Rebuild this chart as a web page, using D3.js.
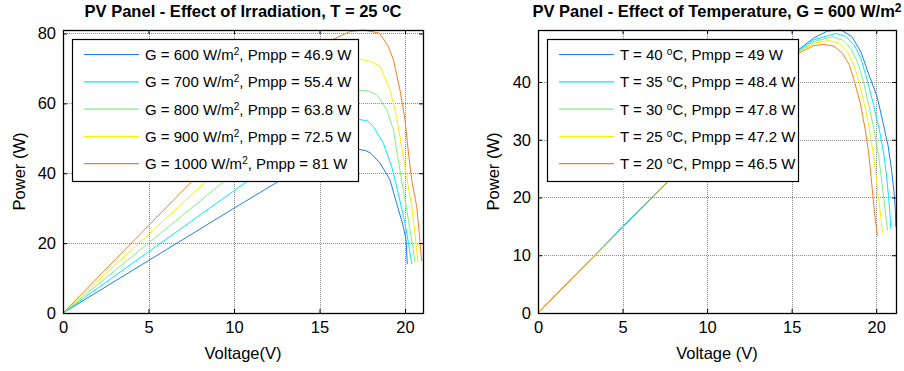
<!DOCTYPE html>
<html>
<head>
<meta charset="utf-8">
<script src="https://cdn.jsdelivr.net/npm/d3@7"></script>
<style>
  body { margin: 0; background: #fff; }
  svg { display: block; font-family: "Liberation Sans", Arial, sans-serif; }
</style>
</head>
<body>
<div id="chart"></div>
<script>
// --- irradiation panel (T = 25 C) ---
const irrLevels = [600, 700, 800, 900, 1000];
const irrPmpp = ["46.9", "55.4", "63.8", "72.5", "81"];
const vG600 = [0, 5, 10, 14, 15, 16, 17.2, 17.7, 18.0, 18.54, 19.12, 19.51, 19.9, 20.06, 20.13];
const pG600 = [0, 15, 30, 41.8, 44.3, 46.3, 46.9, 46.5, 45.7, 42.9, 38.1, 31.4, 24.7, 20.9, 14];
const vG700 = [0, 5, 10, 14, 15, 16, 17.3, 17.8, 18.15, 18.73, 19.22, 19.6, 20.0, 20.2, 20.4];
const pG700 = [0, 17.5, 35, 48.8, 51.8, 54.4, 55.4, 55, 53.4, 48.6, 41.9, 34.3, 25.7, 20, 14];
const vG800 = [0, 5, 10, 14, 15, 16, 17.2, 17.8, 18.35, 18.93, 19.32, 19.6, 19.9, 20.2, 20.39, 20.58];
const pG800 = [0, 20, 40, 55.8, 59.5, 62.7, 63.8, 63.6, 62.5, 58.2, 52.4, 43.8, 35.2, 26.6, 20.9, 14.5];
const vG900 = [0, 5, 10, 14, 15, 16, 17, 17.5, 18, 18.54, 19.12, 19.5, 19.8, 20.09, 20.39, 20.58, 20.7, 20.77];
const pG900 = [0, 22.5, 45, 62.8, 67, 70.8, 72.4, 72.5, 72, 70.6, 63.9, 56.2, 47.7, 39, 30.5, 22.8, 17, 14.5];
const vG1000 = [0, 5, 10, 14, 15, 15.8, 16.8, 17.6, 18.5, 19, 19.32, 19.7, 20.0, 20.2, 20.39, 20.68, 20.83, 20.97];
const pG1000 = [0, 25, 50, 69.8, 74.5, 78.3, 80.6, 81, 80.1, 76.5, 72.5, 63.9, 55.3, 45.8, 38.1, 30.5, 22.9, 14.9];

// --- temperature panel (G = 600 W/m2) ---
const tempLevels = [40, 35, 30, 25, 20];
const tempPmpp = ["49", "48.4", "47.8", "47.2", "46.5"];
const vT40 = [0, 5, 10, 15, 15.5, 16.3, 17.1, 17.9, 18.55, 19.1, 19.6, 20.05, 20.4, 20.7, 20.9, 21.05, 21.13, 21.16];
const pT40 = [0, 14.9, 29.7, 44.6, 45.8, 47.6, 48.8, 49.0, 47.9, 45.2, 41, 37.5, 33, 29, 25, 21, 18, 14.9];
const vT35 = [0, 5, 10, 15, 15.5, 16.3, 17.6, 18.2, 18.7, 19.1, 19.45, 19.85, 20.2, 20.45, 20.6, 20.72, 20.82, 20.86];
const pT35 = [0, 14.9, 29.7, 44.5, 45.6, 47.3, 48.4, 47.9, 46.4, 44, 40.5, 36, 31.5, 27.5, 24, 20.5, 17, 14.6];
const vT30 = [0, 5, 10, 15, 15.5, 16.3, 17.4, 18.0, 18.5, 18.9, 19.25, 19.6, 19.92, 20.15, 20.3, 20.45, 20.6, 20.67];
const pT30 = [0, 14.8, 29.6, 44.4, 45.4, 47.0, 47.8, 47.3, 45.8, 43.4, 40.0, 35.5, 31, 27, 23.5, 19.8, 16, 14.3];
const vT25 = [0, 5, 10, 15, 15.5, 16.3, 17.2, 17.8, 18.3, 18.7, 19.0, 19.35, 19.65, 19.85, 20.0, 20.15, 20.3, 20.37];
const pT25 = [0, 14.8, 29.6, 44.3, 45.3, 46.7, 47.2, 46.7, 45.2, 42.8, 39.8, 35.5, 31, 27, 23.5, 19.5, 16, 13.9];
const vT20 = [0, 5, 10, 15, 15.5, 16.3, 16.9, 17.5, 18.0, 18.4, 18.7, 19.07, 19.36, 19.56, 19.7, 19.81, 19.95, 20.08];
const pT20 = [0, 14.8, 29.6, 44.2, 45.1, 46.3, 46.5, 46.2, 45.0, 43.0, 40.2, 36.2, 31.6, 27.5, 23.5, 20.1, 16.0, 13.4];

const xTicks = [0, 5, 10, 15, 20];
const yTicksIrr = [0, 20, 40, 60, 80];
const yTicksTemp = [0, 10, 20, 30, 40];

const W = 904, H = 371;
const svg = d3.select("#chart").append("svg").attr("width", W).attr("height", H);

function pairs(v, p) { return v.map((x, i) => [x, p[i]]); }

// text with superscript parts: array of [str, isSup]
function richText(sel, parts, supSize, shift) {
  parts.forEach(([s, sup]) => {
    const t = sel.append("tspan").text(s);
    if (sup) t.attr("baseline-shift", shift).attr("font-size", supSize);
  });
}

function panel(cfg) {
  const g = svg.append("g");
  const x = d3.scaleLinear().domain([0, cfg.xMax]).range([cfg.left, cfg.right]);
  const y = d3.scaleLinear().domain([0, cfg.yMax]).range([cfg.bottom, cfg.top]);

  g.append("rect").attr("x", cfg.left).attr("y", cfg.top)
    .attr("width", cfg.right - cfg.left).attr("height", cfg.bottom - cfg.top).attr("fill", "#fff");

  // grid
  const grid = g.append("g").attr("stroke", "#8c8c8c").attr("stroke-width", 1).attr("stroke-dasharray", "1,1");
  xTicks.filter(d => d > 0).forEach(d => grid.append("line")
    .attr("x1", Math.round(x(d)) + 0.5).attr("x2", Math.round(x(d)) + 0.5)
    .attr("y1", cfg.top).attr("y2", cfg.bottom));
  cfg.yTicks.filter(d => d > 0).forEach(d => grid.append("line")
    .attr("y1", Math.round(y(d)) + 0.5).attr("y2", Math.round(y(d)) + 0.5)
    .attr("x1", cfg.left).attr("x2", cfg.right));

  // curves
  const clipId = "clip" + cfg.id;
  svg.append("clipPath").attr("id", clipId).append("rect")
    .attr("x", cfg.left).attr("y", cfg.top - 1)
    .attr("width", cfg.right - cfg.left).attr("height", cfg.bottom - cfg.top + 1);
  const line = d3.line().x(d => x(d[0])).y(d => y(d[1]));
  const cg = g.append("g").attr("clip-path", `url(#${clipId})`);
  cfg.series.forEach((s, i) => cg.append("path").datum(s)
    .attr("d", line).attr("fill", "none").attr("stroke", cfg.colors[i]).attr("stroke-width", 1));

  // axes (ticks inside, box)
  const tl = 4;
  const ax = g.append("g");
  ax.append("g").attr("transform", `translate(0,${cfg.bottom})`)
    .call(d3.axisBottom(x).tickValues(xTicks).tickSizeInner(-tl).tickSizeOuter(0).tickPadding(8))
    .call(a => a.select(".domain").remove());
  ax.append("g").attr("transform", `translate(0,${cfg.top})`)
    .call(d3.axisTop(x).tickValues(xTicks).tickSizeInner(-tl).tickSizeOuter(0).tickFormat(""))
    .call(a => a.select(".domain").remove());
  ax.append("g").attr("transform", `translate(${cfg.left},0)`)
    .call(d3.axisLeft(y).tickValues(cfg.yTicks).tickSizeInner(-tl).tickSizeOuter(0).tickPadding(7))
    .call(a => a.select(".domain").remove());
  ax.append("g").attr("transform", `translate(${cfg.right},0)`)
    .call(d3.axisRight(y).tickValues(cfg.yTicks).tickSizeInner(-tl).tickSizeOuter(0).tickFormat(""))
    .call(a => a.select(".domain").remove());
  ax.selectAll("text").attr("font-family", "Liberation Sans, Arial, sans-serif").attr("font-size", 16.5).attr("fill", "#000");
  ax.selectAll(".tick line").attr("stroke", "#000");

  g.append("rect").attr("x", cfg.left + 0.5).attr("y", cfg.top + 0.5)
    .attr("width", cfg.right - cfg.left).attr("height", cfg.bottom - cfg.top)
    .attr("fill", "none").attr("stroke", "#000").attr("stroke-width", 1.3);

  // legend
  const lg = g.append("g");
  lg.append("rect").attr("x", cfg.legX + 0.5).attr("y", 39.5)
    .attr("width", cfg.legW).attr("height", 142)
    .attr("fill", "#fff").attr("stroke", "#000").attr("stroke-width", 1.2);
  cfg.labels.forEach((parts, i) => {
    const yy = 54.5 + i * 27.3;
    lg.append("line").attr("x1", cfg.legX + 12).attr("x2", cfg.legX + 67)
      .attr("y1", yy).attr("y2", yy).attr("stroke", cfg.colors[i]).attr("stroke-width", 1.2);
    const t = lg.append("text").attr("x", cfg.legX + 73).attr("y", yy + 5.5)
      .attr("font-size", 15).attr("fill", "#000");
    richText(t, parts, 10, "super");
  });

  // title
  const tt = g.append("text").attr("x", (cfg.left + cfg.right) / 2).attr("y", 17)
    .attr("text-anchor", "middle").attr("font-size", 16.5).attr("font-weight", "bold");
  richText(tt, cfg.title, 12, "5px");

  // axis labels
  g.append("text").attr("x", (cfg.left + cfg.right) / 2).attr("y", 359)
    .attr("text-anchor", "middle").attr("font-size", 16.5).text(cfg.xLabel);
  g.append("text").attr("transform", `translate(${cfg.yLabX},${(cfg.top + cfg.bottom) / 2}) rotate(-90)`)
    .attr("text-anchor", "middle").attr("font-size", 16.5).text("Power (W)");
}

const jet = ["#1a80f5", "#00e8ff", "#80f080", "#f8f000", "#f58020"];

panel({
  id: "irr", left: 63, right: 423, top: 30, bottom: 313, xMax: 21.05, yMax: 81,
  yTicks: yTicksIrr, colors: jet, legX: 72, legW: 286, yLabX: 25,
  series: [pairs(vG600, pG600), pairs(vG700, pG700), pairs(vG800, pG800), pairs(vG900, pG900), pairs(vG1000, pG1000)],
  labels: irrLevels.map((g, i) => [[`G = ${g} W/m`, false], ["2", true], [`, Pmpp = ${irrPmpp[i]} W`, false]]),
  title: [["PV Panel - Effect of Irradiation, T = 25 ", false], ["o", true], ["C", false]],
  xLabel: "Voltage(V)"
});

panel({
  id: "temp", left: 538, right: 896, top: 30, bottom: 313, xMax: 21.17, yMax: 49,
  yTicks: yTicksTemp, colors: jet, legX: 547, legW: 251, yLabX: 499,
  series: [pairs(vT40, pT40), pairs(vT35, pT35), pairs(vT30, pT30), pairs(vT25, pT25), pairs(vT20, pT20)],
  labels: tempLevels.map((t, i) => [[`T = ${t} `, false], ["o", true], [`C, Pmpp = ${tempPmpp[i]} W`, false]]),
  title: [["PV Panel - Effect of Temperature, G = 600 W/m", false], ["2", true]],
  xLabel: "Voltage (V)"
});
</script>
</body>
</html>
